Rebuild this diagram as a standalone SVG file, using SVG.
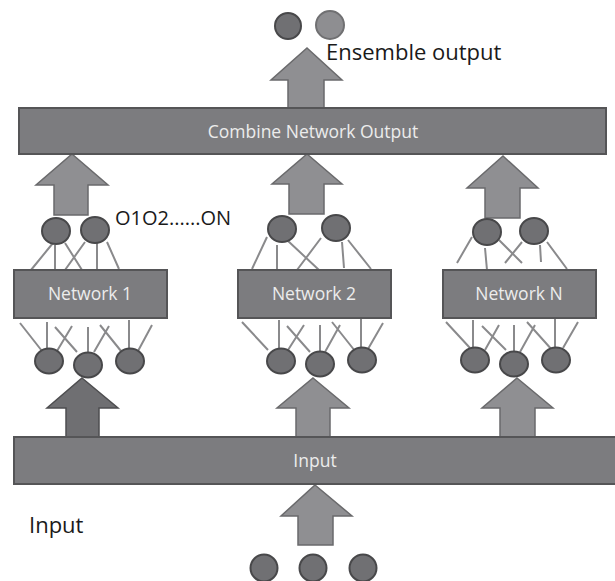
<svg xmlns="http://www.w3.org/2000/svg" width="615" height="581" viewBox="0 0 615 581">
<style>
.box{fill:#7c7c7f;stroke:#555557;stroke-width:2}
.arr{fill:#8f8f92;stroke:#6a6a6c;stroke-width:1.5}
.arrd{fill:#6f6f72;stroke:#4e4e50;stroke-width:1.5}
.nd{fill:#707073;stroke:#48484a;stroke-width:2}
.ndl{fill:#8e8e91;stroke:#707072;stroke-width:2}
.ln{stroke:#8a8a8c;stroke-width:2;fill:none}
.bt{font-family:'Open Sans','Noto Sans',sans-serif;font-size:17.5px;fill:#ececec;text-anchor:middle}
.lb{font-family:'Open Sans','Noto Sans',sans-serif;font-size:21px;fill:#1a1a1a}
</style>
<rect width="615" height="581" fill="#ffffff"/>
<g id="connectors">
  <!-- network 1 top lines -->
  <path class="ln" d="M53,243L31,270 M55,245L55,270 M65,243L82,270 M85,242L65,270 M97,243L97,270 M107,242L119,269"/>
  <!-- network 1 bottom lines -->
  <path class="ln" d="M20,323L42,351 M47,322L47,351 M55,327L77,352 M72,326L57,351 M88,327L88,353 M109,326L94,352 M100,325L121,351 M129,320L129,351 M152,325L138,351"/>
  <!-- network 2 top lines -->
  <path class="ln" d="M267,237L252,269 M277,245L277,270 M287,240L319,270 M321,238L297,270 M342,242L344,268 M348,240L371,269"/>
  <!-- network 2 bottom lines -->
  <path class="ln" d="M242,322L268,350 M279,320L279,350 M287,326L310,352 M304,325L288,350 M320,325L320,353 M340,325L325,352 M332,322L355,351 M361,318L361,351 M383,323L368,349"/>
  <!-- network N top lines -->
  <path class="ln" d="M472,237L457,263 M485,248L487,270 M499,240L522,263 M522,242L505,263 M540,245L541,262 M547,242L567,269"/>
  <!-- network N bottom lines -->
  <path class="ln" d="M446,322L470,348 M473,320L473,350 M482,326L506,350 M499,325L485,350 M514,325L514,353 M535,325L520,352 M527,322L553,351 M555,317L555,351 M578,322L563,348"/>
  <!-- block arrows -->
  <polygon class="arr" points="307,48 342,80 324,80 324,108 288,108 288,80 271,80"/>
  <polygon class="arr" points="72,154 108,185 88,185 88,215 54,215 54,185 36,185"/>
  <polygon class="arr" points="307,154 342,184 324,184 324,214 289,214 289,184 272,184"/>
  <polygon class="arr" points="503,156 538,188 520,188 520,218 485,218 485,188 467,188"/>
  <polygon class="arrd" points="82,378 118,408 99,408 99,437 66,437 66,408 47,408"/>
  <polygon class="arr" points="313,378 349,408 330,408 330,437 296,437 296,408 277,408"/>
  <polygon class="arr" points="517,378 553,408 535,408 535,437 500,437 500,408 482,408"/>
  <polygon class="arr" points="315,485 352,516 333,516 333,545 298,545 298,516 281,516"/>
</g>
<g id="ensemble-output">
  <circle class="nd" cx="288" cy="26" r="13"/>
  <circle class="ndl" cx="330" cy="25" r="14"/>
  <text class="lb" x="326" y="60" style="font-size:22px">Ensemble output</text>
</g>
<g id="combine">
  <rect class="box" x="19" y="108" width="587" height="46"/>
  <text class="bt" x="313" y="138">Combine Network Output</text>
</g>
<g id="outputs-label">
  <text class="lb" x="115" y="225" style="font-size:20px">O1O2......ON</text>
</g>
<g id="network1">
  <ellipse class="nd" cx="56" cy="231" rx="14" ry="13"/>
  <ellipse class="nd" cx="95" cy="230" rx="14" ry="13"/>
  <rect class="box" x="14" y="270" width="153" height="48"/>
  <text class="bt" x="90" y="300">Network 1</text>
  <ellipse class="nd" cx="49" cy="361" rx="14" ry="12.5"/>
  <ellipse class="nd" cx="88" cy="365" rx="14" ry="12.5"/>
  <ellipse class="nd" cx="130" cy="361" rx="14" ry="12.5"/>
</g>
<g id="network2">
  <ellipse class="nd" cx="282" cy="229" rx="14" ry="13"/>
  <ellipse class="nd" cx="336" cy="228" rx="14" ry="13"/>
  <rect class="box" x="238" y="270" width="153" height="48"/>
  <text class="bt" x="314" y="300">Network 2</text>
  <ellipse class="nd" cx="281" cy="361" rx="14" ry="12.5"/>
  <ellipse class="nd" cx="320" cy="364" rx="14" ry="12.5"/>
  <ellipse class="nd" cx="362" cy="360" rx="14" ry="12.5"/>
</g>
<g id="networkN">
  <ellipse class="nd" cx="487" cy="232" rx="14" ry="13"/>
  <ellipse class="nd" cx="534" cy="231" rx="14" ry="13"/>
  <rect class="box" x="443" y="270" width="153" height="48"/>
  <text class="bt" x="519" y="300">Network N</text>
  <ellipse class="nd" cx="475" cy="360" rx="14" ry="12.5"/>
  <ellipse class="nd" cx="514" cy="364" rx="14" ry="12.5"/>
  <ellipse class="nd" cx="556" cy="360" rx="14" ry="12.5"/>
</g>
<g id="input">
  <rect class="box" x="14" y="437" width="603" height="47"/>
  <text class="bt" x="315" y="467">Input</text>
</g>
<g id="input-label">
  <text class="lb" x="29" y="533" style="font-size:22px">Input</text>
</g>
<g id="input-nodes">
  <circle class="nd" cx="264" cy="568" r="13.5"/>
  <circle class="nd" cx="313" cy="568" r="13.5"/>
  <circle class="nd" cx="363" cy="568" r="13.5"/>
</g>
</svg>
